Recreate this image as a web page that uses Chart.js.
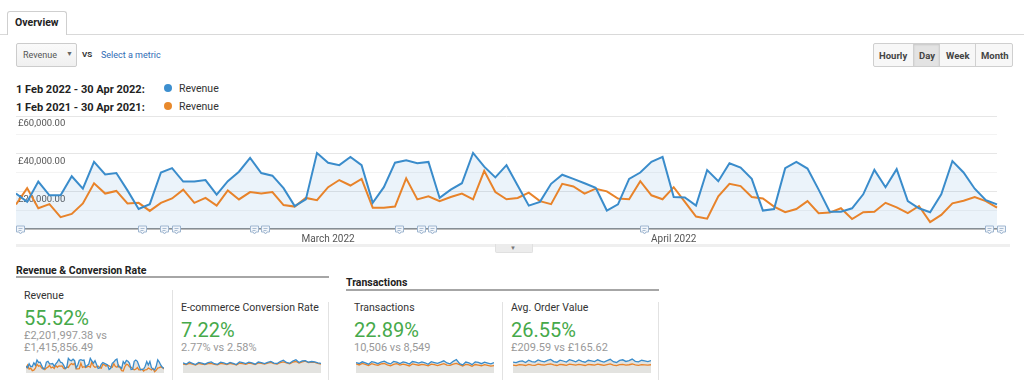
<!DOCTYPE html>
<html>
<head>
<meta charset="utf-8">
<script src="https://cdn.jsdelivr.net/npm/chart.js@4.4.1/dist/chart.umd.min.js"></script>
<style>
  html,body{margin:0;padding:0;background:#fff;}
  body{width:1024px;height:391px;position:relative;overflow:hidden;font-family:Roboto,"Noto Sans",sans-serif;color:#333;}
  .t{position:absolute;white-space:nowrap;line-height:1;}
  .b{font-weight:bold;}
  .box{position:absolute;box-sizing:border-box;}
  canvas{position:absolute;display:block;}
</style>
</head>
<body>
<script>
// ---------------- DATA ----------------
const monthSpans = [['Feb', 2, 28], ['Mar', 3, 31], ['Apr', 4, 30]];
const days = [];
for (const [, m, n] of monthSpans) for (let d = 1; d <= n; d++) days.push('2022-' + String(m).padStart(2,'0') + '-' + String(d).padStart(2,'0'));

// Revenue per day, 1 Feb - 30 Apr 2022 (blue)
const revenue2022 = [
  18800,14400,25200,17900,17900,28000,21400,35700,29000,29700,
  20500,10600,13200,30000,32300,25200,25200,26000,18300,25400,
  30400,37800,29700,28300,21700,12200,15700,40300,35200,33900,
  38200,33900,13900,22200,35200,36500,34900,35600,16500,20900,
  24300,40400,33100,27400,33900,23100,12400,14400,24000,28800,
  26600,24300,21900,9800,13100,26600,30000,35700,38300,17000,
  16700,12400,31300,25400,34900,32600,26600,9800,10600,32300,
  35600,32100,20900,9200,9200,11000,18400,31400,22200,31800,
  14800,11000,8900,18400,36100,30000,21400,15300,13100
];
// Revenue per day, 1 Feb - 30 Apr 2021 (orange)
const revenue2021 = [
  13000,21700,11000,13200,6300,8000,13600,24300,18800,20200,
  13600,13900,9600,13900,16200,20900,13900,16500,12400,20500,
  15700,19600,18800,19600,12700,11900,16500,15300,22200,26000,
  23100,26600,11300,11300,11900,26900,15700,17400,14800,17000,
  18800,15700,30900,19600,15800,16500,19300,14800,13200,24000,
  22600,18800,21400,20000,16200,15800,25400,17900,15800,22200,
  14400,6600,5500,17400,24000,22800,17000,16200,11900,8900,
  10600,14800,8400,8700,11000,5300,8900,9200,13900,11500,
  8400,12200,3700,7500,13600,15000,17000,14800,11300
];
const yTickValues = [20000, 40000, 60000];
const yTickLabels = ['£20,000.00', '£40,000.00', '£60,000.00'];
const monthTickIdx = [28, 59];
const monthTickLabels = ['March 2022', 'April 2022'];
const annotationDays = [0, 11, 13, 14, 21, 22, 34, 36, 37, 56, 87, 88];

// Sparkline data (estimated from the small charts)
const convBlue = [2.75,2.6,2.85,2.7,2.55,2.8,2.72,2.6,2.78,2.85,2.65,2.58,2.82,2.75,2.62,2.8,2.7,2.55,2.85,2.78,2.66,2.82,2.74,2.6,2.84,2.78,2.66,2.8,2.92,2.72,2.68,2.9,3.05,2.8,2.7,2.95,3.1,2.78,2.96,3.0,2.82,2.9,2.86,2.75,2.7];
const convOrange = [2.62,2.55,2.7,2.6,2.5,2.68,2.62,2.55,2.66,2.7,2.58,2.52,2.68,2.64,2.56,2.7,2.62,2.5,2.7,2.66,2.58,2.72,2.66,2.55,2.74,2.7,2.6,2.72,2.8,2.66,2.62,2.78,2.85,2.74,2.65,2.82,2.9,2.72,2.86,2.95,2.78,2.84,2.8,2.7,2.62];
const transBlue = [120,112,128,118,105,130,122,110,126,135,118,108,132,125,112,128,120,106,131,124,115,127,119,104,129,121,113,125,138,117,109,133,150,112,98,126,119,101,128,122,110,124,116,108,120];
const transOrange = [108,98,112,104,92,110,100,94,108,112,98,90,104,110,96,106,99,88,108,102,95,104,98,90,106,100,92,102,110,96,94,106,112,100,88,104,98,84,102,96,90,100,94,86,92];
const aovBlue = [205,198,215,222,200,230,212,205,235,218,208,228,240,212,204,232,220,206,238,225,210,234,216,204,230,222,212,236,218,206,226,242,210,200,228,236,214,224,246,216,208,230,222,212,226];
const aovOrange = [165,158,172,168,160,175,166,162,178,170,164,176,180,168,160,174,170,162,178,172,165,176,168,160,174,170,164,178,170,162,172,182,166,158,172,176,166,170,180,168,162,172,168,164,170];

const BLUE = '#3a8ccb', ORANGE = '#e8832a';
</script>

<!-- Tab -->
<div class="box" style="left:0;top:34px;width:1024px;height:1px;background:#d9d9d9;"></div>
<div class="box" style="left:7px;top:11px;width:60px;height:24px;border:1px solid #cfcfcf;border-bottom:none;border-radius:3px 3px 0 0;background:#fff;"></div>
<div class="t b" style="left:15px;top:18px;font-size:10.5px;color:#222;">Overview</div>

<!-- Metric selector -->
<div class="box" style="left:16px;top:43px;width:61px;height:24px;border:1px solid #ccc;border-radius:2px;background:linear-gradient(#fafafa,#f0f0f0);"></div>
<div class="t" style="left:23px;top:51px;font-size:9px;color:#555;">Revenue</div>
<div class="t" style="left:66px;top:51px;font-size:7px;color:#666;">▼</div>
<div class="t b" style="left:82px;top:51px;font-size:8px;color:#333;">VS</div>
<div class="t" style="left:101px;top:51px;font-size:9px;color:#2f6bb5;">Select a metric</div>

<!-- Granularity buttons -->
<div class="box" style="left:873px;top:43px;width:140px;height:24px;border:1px solid #cfcfcf;border-radius:2px;background:#f7f7f7;"></div>
<div class="box" style="left:913px;top:44px;width:27px;height:22px;background:#e3e3e3;border-left:1px solid #d0d0d0;border-right:1px solid #d0d0d0;box-shadow:inset 0 1px 2px rgba(0,0,0,0.12);"></div>
<div class="box" style="left:975px;top:44px;width:1px;height:22px;background:#d0d0d0;"></div>
<div class="t b" style="left:879px;top:51px;font-size:9.5px;color:#444;">Hourly</div>
<div class="t b" style="left:919px;top:51px;font-size:9.5px;color:#444;">Day</div>
<div class="t b" style="left:946px;top:51px;font-size:9.5px;color:#444;">Week</div>
<div class="t b" style="left:981px;top:51px;font-size:9.5px;color:#444;">Month</div>

<!-- Legend -->
<div class="t b" style="left:16px;top:84px;font-size:11px;color:#222;">1 Feb 2022 - 30 Apr 2022:</div>
<div class="box" style="left:164px;top:84px;width:8px;height:8px;border-radius:50%;background:#3d8fcf;"></div>
<div class="t" style="left:179px;top:84px;font-size:10.5px;color:#333;">Revenue</div>
<div class="t b" style="left:16px;top:102px;font-size:11px;color:#222;">1 Feb 2021 - 30 Apr 2021:</div>
<div class="box" style="left:164px;top:102px;width:8px;height:8px;border-radius:50%;background:#e8892c;"></div>
<div class="t" style="left:179px;top:102px;font-size:10.5px;color:#333;">Revenue</div>

<!-- Main chart -->
<canvas id="main" width="1000" height="134" style="left:16px;top:112px;"></canvas>

<!-- Chart collapse bar -->
<div class="box" style="left:16px;top:244px;width:994px;height:3px;background:#efefef;"></div>
<div class="box" style="left:495px;top:244px;width:38px;height:9px;background:#ececec;border:1px solid #e0e0e0;border-top:none;border-radius:0 0 2px 2px;"></div>
<div class="t" style="left:510px;top:245px;font-size:6px;color:#777;">▼</div>

<!-- Section headers -->
<div class="t b" style="left:16px;top:266px;font-size:10.5px;color:#222;">Revenue &amp; Conversion Rate</div>
<div class="box" style="left:16px;top:276px;width:313px;height:2px;background:#a6a6a6;"></div>
<div class="t b" style="left:346px;top:278px;font-size:10.5px;color:#222;">Transactions</div>
<div class="box" style="left:346px;top:289px;width:313px;height:2px;background:#a6a6a6;"></div>

<!-- Dividers -->
<div class="box" style="left:172px;top:290px;width:1px;height:90px;background:#e2e2e2;"></div>
<div class="box" style="left:328px;top:302px;width:1px;height:78px;background:#e2e2e2;"></div>
<div class="box" style="left:502px;top:302px;width:1px;height:78px;background:#e2e2e2;"></div>
<div class="box" style="left:658px;top:302px;width:1px;height:78px;background:#e2e2e2;"></div>

<!-- Cards -->
<div class="t" style="left:24px;top:291px;font-size:10.5px;color:#333;">Revenue</div>
<div class="t" style="left:24px;top:308px;font-size:20px;color:#46a94a;">55.52%</div>
<div class="t" style="left:24px;top:330px;font-size:11px;color:#999;">£2,201,997.38 vs</div>
<div class="t" style="left:24px;top:342px;font-size:11px;color:#999;">£1,415,856.49</div>
<canvas id="sp1" width="138" height="16" style="left:26px;top:357px;"></canvas>

<div class="t" style="left:181px;top:303px;font-size:10.5px;color:#333;">E-commerce Conversion Rate</div>
<div class="t" style="left:181px;top:320px;font-size:20px;color:#46a94a;">7.22%</div>
<div class="t" style="left:181px;top:342px;font-size:11px;color:#999;">2.77% vs 2.58%</div>
<canvas id="sp2" width="138" height="15" style="left:183px;top:358px;"></canvas>

<div class="t" style="left:354px;top:303px;font-size:10.5px;color:#333;">Transactions</div>
<div class="t" style="left:354px;top:320px;font-size:20px;color:#46a94a;">22.89%</div>
<div class="t" style="left:354px;top:342px;font-size:11px;color:#999;">10,506 vs 8,549</div>
<canvas id="sp3" width="138" height="15" style="left:356px;top:358px;"></canvas>

<div class="t" style="left:511px;top:303px;font-size:10.5px;color:#333;">Avg. Order Value</div>
<div class="t" style="left:511px;top:320px;font-size:20px;color:#46a94a;">26.55%</div>
<div class="t" style="left:511px;top:342px;font-size:11px;color:#999;">£209.59 vs £165.62</div>
<canvas id="sp4" width="138" height="15" style="left:513px;top:358px;"></canvas>

<script>
Chart.defaults.font.family = 'Roboto, "Noto Sans", sans-serif';
Chart.defaults.animation = false;

const notesPlugin = {
  id: 'notes',
  afterDraw(chart) {
    const ctx = chart.ctx, xs = chart.scales.x, y = chart.chartArea.bottom;
    ctx.save();
    for (const i of annotationDays) {
      const x = Math.round(xs.getPixelForValue(i) + 3.5) + 0.5;
      ctx.beginPath();
      ctx.moveTo(x - 4, y - 3);
      ctx.lineTo(x + 4, y - 3);
      ctx.lineTo(x + 4, y + 3);
      ctx.lineTo(x + 1.5, y + 3);
      ctx.lineTo(x, y + 5);
      ctx.lineTo(x - 1.5, y + 3);
      ctx.lineTo(x - 4, y + 3);
      ctx.closePath();
      ctx.fillStyle = '#f1f5fa';
      ctx.fill();
      ctx.strokeStyle = '#9fb6d0';
      ctx.lineWidth = 1;
      ctx.stroke();
      ctx.fillStyle = '#a9bcd2';
      ctx.fillRect(x - 2, y - 1, 4, 1);
      ctx.fillRect(x - 2, y + 1, 3, 1);
    }
    ctx.restore();
  }
};

new Chart(document.getElementById('main'), {
  type: 'line',
  data: {
    labels: days,
    datasets: [
      { data: revenue2022, borderColor: BLUE, backgroundColor: 'rgba(58,140,203,0.10)', fill: 'origin', borderWidth: 2, pointRadius: 0, tension: 0 },
      { data: revenue2021, borderColor: ORANGE, fill: false, borderWidth: 2, pointRadius: 0, tension: 0 }
    ]
  },
  options: {
    responsive: false,
    layout: { padding: { top: 4, right: 19, left: 0, bottom: 0 } },
    plugins: { legend: { display: false }, tooltip: { enabled: false }, filler: { drawTime: 'beforeDatasetsDraw' } },
    scales: {
      x: {
        grid: { display: false, drawTicks: false },
        border: { display: true, color: '#8f8f8f', width: 1.5 },
        ticks: {
          autoSkip: false, maxRotation: 0, minRotation: 0, padding: 4, color: '#555', font: { size: 10 },
          callback: (v, i) => { const k = monthTickIdx.indexOf(i); return k >= 0 ? monthTickLabels[k] : ''; }
        },
        afterFit(s) { s.height = 17; s.paddingLeft = 0; s.paddingRight = 0; }
      },
      y: {
        min: 0, max: 60000,
        grid: { drawTicks: false, color: c => (c.tick && c.tick.value % 20000 === 0) ? '#e6e6e6' : '#f3f3f3' },
        border: { display: false },
        ticks: {
          stepSize: 10000, mirror: true, padding: 2, labelOffset: 8, color: '#555', font: { size: 9.5 },
          callback: v => { const k = yTickValues.indexOf(v); return k >= 0 ? yTickLabels[k] : ''; }
        },
        afterFit(s) { s.width = 0; s.paddingTop = 0; s.paddingBottom = 0; }
      }
    }
  },
  plugins: [notesPlugin]
});

function spark(id, blue, orange, min, max) {
  const lbl = blue.map((_, i) => i);
  new Chart(document.getElementById(id), {
    type: 'line',
    data: {
      labels: lbl,
      datasets: [
        { data: blue, borderColor: BLUE, backgroundColor: '#e3e3e0', fill: 'origin', borderWidth: 1.3, pointRadius: 0, tension: 0 },
        { data: orange, borderColor: ORANGE, fill: false, borderWidth: 1.3, pointRadius: 0, tension: 0 }
      ]
    },
    options: {
      responsive: false,
      layout: { padding: 0 },
      plugins: { legend: { display: false }, tooltip: { enabled: false }, filler: { drawTime: 'beforeDatasetsDraw' } },
      scales: { x: { display: false }, y: { display: false, min: min, max: max } }
    }
  });
}
spark('sp1', revenue2022, revenue2021, 0, 44000);
spark('sp2', convBlue, convOrange, 1.6, 3.3);
spark('sp3', transBlue, transOrange, 20, 165);
spark('sp4', aovBlue, aovOrange, 60, 260);
</script>
</body>
</html>
